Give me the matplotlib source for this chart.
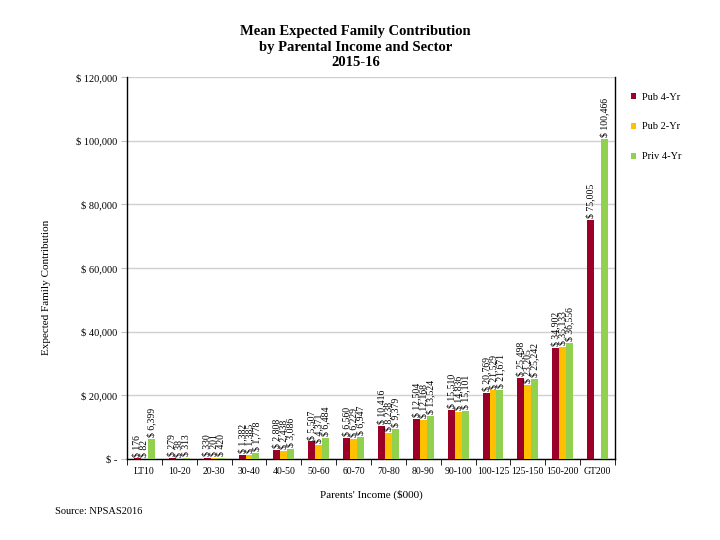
import numpy as np
import matplotlib
matplotlib.use('Agg')
import matplotlib.pyplot as plt

plt.rcParams['font.family'] = ['Liberation Serif', 'DejaVu Serif']

# data
categories = ['LT10', '10-20', '20-30', '30-40', '40-50', '50-60', '60-70',
              '70-80', '80-90', '90-100', '100-125', '125-150', '150-200', 'GT200']
pub4 = [176, 279, 330, 1382, 2808, 5507, 6560, 10416, 12504, 15510, 20769, 25498, 34902, 75005]
pub2 = [82, 38, 201, 1385, 2438, 4371, 6229, 8238, 12168, 14836, 21529, 23205, 35133, np.nan]
priv4 = [6399, 313, 420, 1778, 3086, 6484, 6947, 9379, 13524, 15101, 21671, 25242, 36556, 100466]
series_names = ['Pub 4-Yr', 'Pub 2-Yr', 'Priv 4-Yr']
colors = ['#9B0028', '#FFC000', '#92D050']

fig = plt.figure(figsize=(7.2, 5.4), dpi=100)
ax = fig.add_axes([127 / 720, 1 - 459 / 540, (615 - 127) / 720, (459 - 77) / 540])

x = np.arange(len(categories))
w = 0.2
for i, (vals, name, c) in enumerate(zip([pub4, pub2, priv4], series_names, colors)):
    pos = x + (i - 1) * w
    ax.bar(pos, vals, w, color=c, label=name, zorder=3)
    for xp, v in zip(pos, vals):
        if np.isnan(v):
            continue
        ax.text(xp, v + 600, '$ {:,.0f}'.format(v), rotation=90, ha='center', va='bottom',
                fontsize=7, zorder=4)

ax.set_xlim(-0.5, len(categories) - 0.5)
ax.set_ylim(0, 120000)
yt = np.arange(0, 120001, 20000)
ax.set_yticks(yt)
ax.set_yticklabels(['$ -'] + ['$ {:,.0f}'.format(v) for v in yt[1:]], fontsize=7.5)
ax.yaxis.grid(True, color='#d0d0d0', linewidth=1, zorder=0)
ax.tick_params(axis='y', length=4, color='#c0c0c0', pad=3)

ax.set_xticks(x)
ax.set_xticklabels(categories, fontsize=7)
ax.tick_params(axis='x', length=0, pad=6)
ax.set_xticks(np.arange(-0.5, len(categories), 1), minor=True)
ax.tick_params(axis='x', which='minor', length=4, color='black')

ax.spines['top'].set_visible(False)
for s in ['left', 'bottom', 'right']:
    ax.spines[s].set_color('black')
    ax.spines[s].set_linewidth(1)

ax.set_xlabel("Parents' Income ($000)", fontsize=8, labelpad=10)
ax.set_ylabel('Expected Family Contribution', fontsize=8)
ax.yaxis.set_label_coords(-0.155, 0.45)

fig.text(0.494, 1 - 47 / 540, 'Mean Expected Family Contribution\nby Parental Income and Sector\n2015-16',
         ha='center', va='center', fontsize=10.5, fontweight='bold', linespacing=1.3)
fig.text(55 / 720, 1 - 511 / 540, 'Source: NPSAS2016', fontsize=7.5, va='center')

ax.legend(loc='upper left', bbox_to_anchor=(1.0, 1.0), frameon=False, fontsize=7.5,
          handlelength=0.5, handleheight=0.5, labelspacing=2.0, borderaxespad=1.1,
          handletextpad=0.6)

plt.savefig('out.png', dpi=100)
